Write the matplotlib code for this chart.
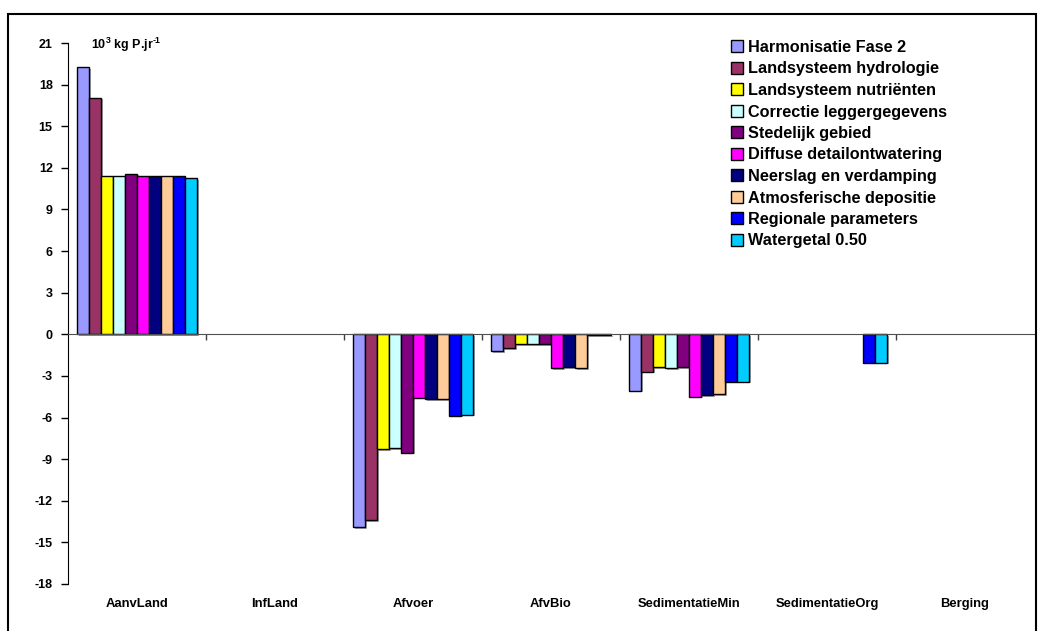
import matplotlib
matplotlib.use("Agg")
import matplotlib.pyplot as plt
import matplotlib.patheffects as pe
import matplotlib.transforms as mtransforms
from matplotlib.patches import Rectangle
import numpy as np

plt.rcParams['font.family'] = ['Liberation Sans', 'DejaVu Sans']
plt.rcParams['font.weight'] = 'bold'
plt.rcParams['axes.unicode_minus'] = False
plt.rcParams['mathtext.fontset'] = 'custom'
plt.rcParams['mathtext.rm'] = 'Liberation Sans:bold'
plt.rcParams['mathtext.it'] = 'Liberation Sans:bold'
plt.rcParams['mathtext.bf'] = 'Liberation Sans:bold'

categories = ["AanvLand", "InfLand", "Afvoer", "AfvBio",
              "SedimentatieMin", "SedimentatieOrg", "Berging"]

# values in 10^3 kg P per year, one list per scenario
harmonisatie = [19.25, 0, -13.9, -1.23, -4.06, 0, 0]
hydrologie = [17.07, 0, -13.4, -0.99, -2.69, 0, 0]
nutrienten = [11.4, 0, -8.29, -0.72, -2.36, 0, 0]
legger = [11.4, 0, -8.2, -0.72, -2.45, 0, 0]
stedelijk = [11.58, 0, -8.53, -0.72, -2.36, 0, 0]
diffuse = [11.4, 0, -4.57, -2.45, -4.5, 0, 0]
neerslag = [11.4, 0, -4.66, -2.36, -4.4, 0, 0]
depositie = [11.4, 0, -4.66, -2.45, -4.3, 0, 0]
regionaal = [11.4, 0, -5.86, -0.06, -3.41, -2.04, 0]
watergetal = [11.27, 0, -5.79, -0.06, -3.41, -2.04, 0]

series = [
    ("Harmonisatie Fase 2", harmonisatie, "#9999FF"),
    ("Landsysteem hydrologie", hydrologie, "#993366"),
    ("Landsysteem nutriënten", nutrienten, "#FFFF00"),
    ("Correctie leggergegevens", legger, "#CCFFFF"),
    ("Stedelijk gebied", stedelijk, "#800080"),
    ("Diffuse detailontwatering", diffuse, "#FF00FF"),
    ("Neerslag en verdamping", neerslag, "#000080"),
    ("Atmosferische depositie", depositie, "#FFCC99"),
    ("Regionale parameters", regionaal, "#0000FF"),
    ("Watergetal 0.50", watergetal, "#00CCFF"),
]

fig = plt.figure(figsize=(10.44, 6.31), dpi=100)
ax = fig.add_axes([68/1044, 1-584/631, (1034-68)/1044, (584-43)/631])

# outer frame of the chart area
fig.patches.append(Rectangle((8/1044, -0.02), (1036-8)/1044, 1-14/631+0.02,
                             transform=fig.transFigure, fill=False,
                             edgecolor="black", linewidth=1.5))

x = np.arange(len(categories))
n = len(series)
w = 0.87 / n
shadow = [pe.SimplePatchShadow(offset=(1.2, -1.2), shadow_rgbFace="grey", alpha=0.7),
          pe.Normal()]
for i, (name, vals, col) in enumerate(series):
    bars = ax.bar(x - 0.435 + w*(i+0.5), vals, w, color=col, edgecolor="black",
                  linewidth=1, label=name, path_effects=shadow, zorder=2)
    for b, v in zip(bars, vals):
        if v == 0:
            b.set_visible(False)

ax.set_xlim(-0.5, len(categories)-0.5)
ax.set_ylim(-18, 21)
ax.set_yticks(np.arange(-18, 22, 3))
ax.tick_params(axis="y", length=5, width=1, labelsize=9, pad=6)
for lab in ax.get_yticklabels():
    lab.set_fontweight("bold")

ax.spines["top"].set_visible(False)
ax.spines["right"].set_visible(False)
ax.spines["bottom"].set_position(("data", 0))
ax.spines["bottom"].set_color("#505050")
ax.spines["bottom"].set_zorder(3)
ax.set_xticks(x[:-1] + 0.5)
ax.tick_params(axis="x", length=4, width=1, labelbottom=False, color="#404040")

trans = mtransforms.blended_transform_factory(ax.transData, ax.transAxes)
for xi, c in zip(x, categories):
    ax.text(xi, -0.037, c, transform=trans, ha="center", va="center",
            fontsize=9.4, fontweight="bold")

ax.text(91/1044, 1-45/631, r"10$^{3}$ kg P.jr$^{\text{-}1}$", transform=fig.transFigure,
        ha="left", va="center", fontsize=9, fontweight="bold")

leg = ax.legend(loc="upper left", bbox_to_anchor=(731/1044, 1-40/631),
                bbox_transform=fig.transFigure, frameon=False,
                fontsize=11.7, handlelength=0.75, handleheight=0.75,
                handletextpad=0.3, labelspacing=0.4, borderpad=0, borderaxespad=0)
for t in leg.get_texts():
    t.set_fontweight("bold")
for h in leg.legend_handles:
    h.set_path_effects([])

fig.savefig("out.png", dpi=100)
